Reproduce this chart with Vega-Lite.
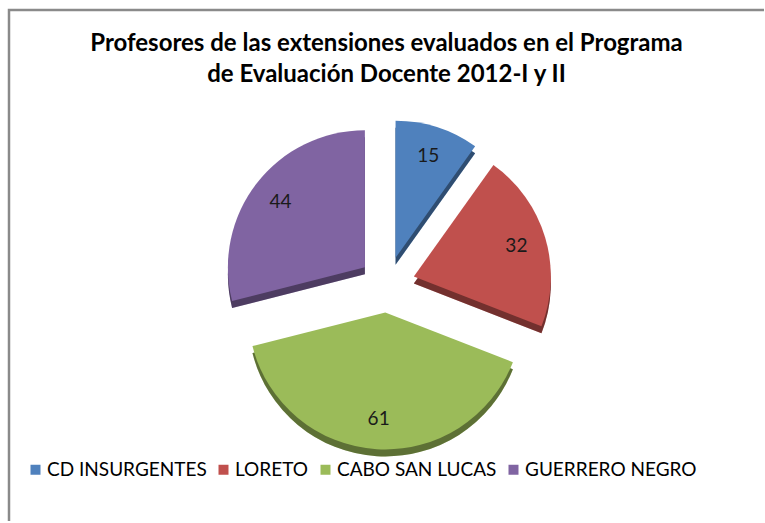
{
  "$schema": "https://vega.github.io/schema/vega-lite/v6.json",
  "usermeta": {"embedOptions": {"actions": false}},
  "width": 755,
  "height": 511,
  "autosize": {"type": "none"},
  "padding": {"left": 9, "top": 10, "right": 0, "bottom": 0},
  "background": "white",
  "view": {"stroke": "#8a8a8a", "strokeWidth": 2.5, "strokeDash": [755, 1266, 511, 1]},
  "title": {
    "text": ["Profesores de las extensiones evaluados en el Programa", "de Evaluación Docente 2012-I y II"],
    "font": "Lato",
    "fontSize": 24,
    "fontWeight": "bold",
    "color": "#000000",
    "anchor": "middle",
    "frame": "group",
    "offset": -77,
    "lineHeight": 31
  },
  "data": {
    "values": [
      {"idx": 1, "extension": "CD INSURGENTES", "profesores": 15},
      {"idx": 2, "extension": "LORETO", "profesores": 32},
      {"idx": 3, "extension": "CABO SAN LUCAS", "profesores": 61},
      {"idx": 4, "extension": "GUERRERO NEGRO", "profesores": 44}
    ]
  },
  "encoding": {
    "theta": {"field": "profesores", "type": "quantitative", "stack": true},
    "order": {"field": "idx", "type": "quantitative"}
  },
  "layer": [
    {
      "mark": {
        "type": "arc",
        "radius": 137,
        "xOffset": {"expr": "0.5 + 28*sin(scale('theta', (datum.profesores_start + datum.profesores_end)/2))"},
        "yOffset": {"expr": "26 - 28*cos(scale('theta', (datum.profesores_start + datum.profesores_end)/2))"}
      },
      "encoding": {
        "color": {
          "field": "extension",
          "type": "nominal",
          "sort": null,
          "scale": {
            "domain": ["CD INSURGENTES", "LORETO", "CABO SAN LUCAS", "GUERRERO NEGRO"],
            "range": ["#4F81BD", "#C0504D", "#9BBB59", "#8064A2"]
          },
          "legend": {
            "title": null,
            "orient": "none",
            "direction": "horizontal",
            "columns": 4,
            "legendX": 17,
            "legendY": 450,
            "padding": 0,
            "columnPadding": 7,
            "labelOffset": 2,
            "symbolType": "square",
            "symbolSize": 100,
            "symbolStrokeWidth": 0,
            "labelFont": "Lato",
            "labelFontSize": 19,
            "labelColor": "#000000",
            "labelLimit": 300
          }
        }
      }
    },
    {
      "mark": {
        "type": "arc",
        "radius": 137,
        "color": "#000000",
        "opacity": 0.4,
        "xOffset": {"expr": "0.5 + 28*sin(scale('theta', (datum.profesores_start + datum.profesores_end)/2))"},
        "yOffset": {"expr": "26 - 28*cos(scale('theta', (datum.profesores_start + datum.profesores_end)/2))"}
      }
    },
    {
      "mark": {
        "type": "arc",
        "radius": 137,
        "xOffset": {"expr": "0.5 + 28*sin(scale('theta', (datum.profesores_start + datum.profesores_end)/2))"},
        "yOffset": {"expr": "19 - 28*cos(scale('theta', (datum.profesores_start + datum.profesores_end)/2))"}
      },
      "encoding": {
        "color": {
          "field": "extension",
          "type": "nominal",
          "sort": null,
          "scale": {
            "domain": ["CD INSURGENTES", "LORETO", "CABO SAN LUCAS", "GUERRERO NEGRO"],
            "range": ["#4F81BD", "#C0504D", "#9BBB59", "#8064A2"]
          },
          "legend": {
            "title": null,
            "orient": "none",
            "direction": "horizontal",
            "columns": 4,
            "legendX": 17,
            "legendY": 450,
            "padding": 0,
            "columnPadding": 7,
            "labelOffset": 2,
            "symbolType": "square",
            "symbolSize": 100,
            "symbolStrokeWidth": 0,
            "labelFont": "Lato",
            "labelFontSize": 19,
            "labelColor": "#000000",
            "labelLimit": 300
          }
        }
      }
    },
    {
      "mark": {
        "type": "text",
        "radius": 107,
        "font": "Lato",
        "fontSize": 19,
        "color": "#1a1a1a",
        "xOffset": {"expr": "0.5 + 28*sin(scale('theta', (datum.profesores_start + datum.profesores_end)/2))"},
        "yOffset": {"expr": "19 - 28*cos(scale('theta', (datum.profesores_start + datum.profesores_end)/2))"}
      },
      "encoding": {
        "text": {"field": "profesores", "type": "quantitative"}
      }
    }
  ]
}
